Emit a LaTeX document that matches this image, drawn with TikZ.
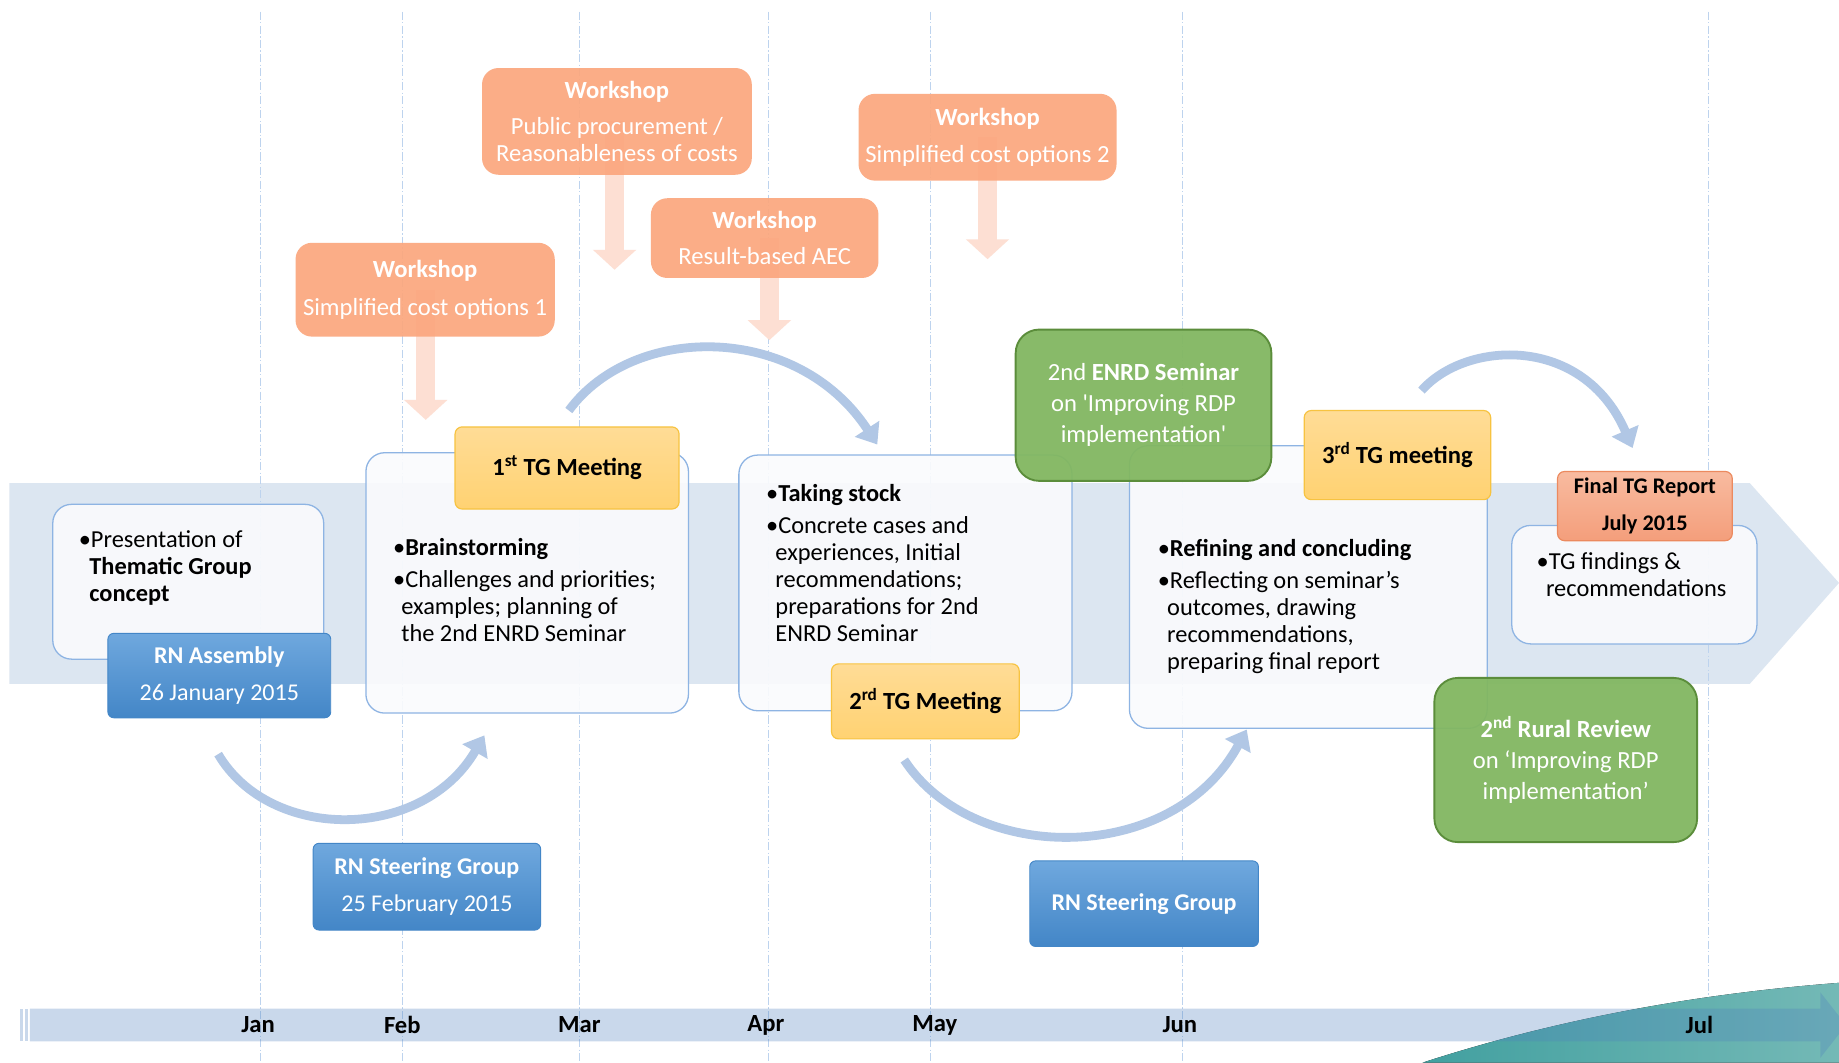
\documentclass[tikz,border=0pt]{standalone}
\usepackage{fontspec}
\newfontfamily\cfont{Carlito}
\usetikzlibrary{arrows.meta}
\definecolor{band}{HTML}{DCE6F1}
\definecolor{boxline}{HTML}{8EB4E3}
\definecolor{boxfill}{HTML}{FAFBFD}
\definecolor{dashcol}{HTML}{BDD3EE}
\definecolor{barcol}{HTML}{4F81BD}
\definecolor{wsfill}{HTML}{FBA77E}
\definecolor{wsarrow}{HTML}{FDDFD3}
\definecolor{ylwtop}{HTML}{FFDC96}
\definecolor{ylwbot}{HTML}{FFD272}
\definecolor{ylwline}{HTML}{F7C341}
\definecolor{grn}{HTML}{82B761}
\definecolor{grnline}{HTML}{5B8D3B}
\definecolor{blutop}{HTML}{6FA8DE}
\definecolor{blubot}{HTML}{4386C7}
\definecolor{fintop}{HTML}{F8BBA0}
\definecolor{finbot}{HTML}{F49E7B}
\definecolor{finline}{HTML}{EC8A5F}
\definecolor{arrowcol}{HTML}{B1C7E5}
\definecolor{tealL}{HTML}{42A0A0}
\definecolor{tealR}{HTML}{74B9B6}
\begin{document}
\begin{tikzpicture}[x=1pt,y=-1pt,
  every node/.style={font=\cfont},
  bigbox/.style={draw=boxline, line width=1.1pt, fill=boxfill, fill opacity=0.9, rounded corners=16pt, inner sep=0pt},
  body/.style={anchor=north west, align=left, inner sep=0pt, text=black, font=\cfont\fontsize{20.8}{23}\selectfont},
  tghead/.style={draw=ylwline, line width=1pt, top color=ylwtop, bottom color=ylwbot, rounded corners=6pt, inner sep=0pt, align=center, text=black, font=\cfont\bfseries\fontsize{21}{25}\selectfont},
  finhead/.style={draw=finline, line width=1pt, top color=fintop, bottom color=finbot, rounded corners=6pt, inner sep=0pt, align=center, text=black, font=\cfont\bfseries\fontsize{19}{32}\selectfont},
  greenbox/.style={draw=grnline, line width=1.6pt, fill=grn, fill opacity=0.95, text opacity=1, rounded corners=20pt, inner sep=0pt, align=center, text=white, font=\cfont\fontsize{21}{26.5}\selectfont},
  bluebox/.style={draw=blubot, line width=0.8pt, top color=blutop, bottom color=blubot, rounded corners=5pt, inner sep=0pt, align=center, text=white, font=\cfont\fontsize{20.5}{31}\selectfont},
  wsbox/.style={fill=wsfill, fill opacity=0.93, text opacity=1, rounded corners=14pt, inner sep=0pt, align=center, text=white, font=\cfont\fontsize{21}{23}\selectfont},
  wsarr/.style={draw=wsarrow, line width=16pt, -{Triangle[width=36pt,length=17pt]}},
  carrow/.style={draw=arrowcol, line width=7.5pt, -{Triangle[width=24pt,length=16pt]}},
  month/.style={inner sep=0pt, text=black, font=\cfont\bfseries\fontsize{21}{24}\selectfont},
  vline/.style={draw=dashcol, line width=0.8pt, dash pattern=on 7pt off 2pt on 1pt off 2pt},
  tbar/.style={fill=barcol, fill opacity=0.3}
]
\useasboundingbox (0,0) rectangle (1568,906);
\fill[white] (0,0) rectangle (1568,906);

% background band arrow
\fill[band] (8,412) -- (1492,412) -- (1568,497) -- (1492,583) -- (8,583) -- cycle;

% month guide lines
\foreach \x in {222,343,494,655,793,1008,1457}
  \draw[vline] (\x,10) -- (\x,906);

% teal decoration
\fill[left color=tealL, right color=tealR] (1213,906) .. controls (1330,868) and (1450,847) .. (1568,838) -- (1568,906) -- cycle;

% bottom timeline bar (semi-transparent arrow)
\fill[tbar] (17,860) rectangle (19.5,888);
\fill[tbar] (21.5,860) rectangle (23.5,888);
\fill[tbar] (25.5,860) -- (1552,860) -- (1552,846) -- (1574,874) -- (1552,902) -- (1552,888) -- (25.5,888) -- cycle;

\node[month] (mjan) at (220,874) {Jan};
\node[month] (mfeb) at (343,874) {Feb};
\node[month] (mmar) at (494,874) {Mar};
\node[month] (mapr) at (653,874) {Apr};
\node[month] (mmay) at (797,874) {May};
\node[month] (mjun) at (1006,874) {Jun};
\node[month] (mjul) at (1449,874) {Jul};

% workshop arrows (under boxes)
\coordinate (w1t) at (363,358);
\coordinate (w2t) at (524,230);
\coordinate (w3t) at (656,290);
\coordinate (w4t) at (842,221);
\node[wsbox, minimum width=221, minimum height=80, fill opacity=0] (w1) at (362.5,247) {};
\node[wsbox, minimum width=230, minimum height=91, fill opacity=0] (w2) at (526,103.5) {};
\node[wsbox, minimum width=194, minimum height=68, fill opacity=0] (w3) at (652,203) {};
\node[wsbox, minimum width=220, minimum height=74, fill opacity=0] (w4) at (842,117) {};
\draw[wsarr] (w1t |- w1.center) -- (w1t);
\draw[wsarr] (w2t |- w2.center) -- (w2t);
\draw[wsarr] (w3t |- w3.center) -- (w3t);
\draw[wsarr] (w4t |- w4.center) -- (w4t);

% workshop boxes
\node[wsbox, minimum width=221, minimum height=80] (w1b) at (w1) {\textbf{Workshop}\\[9pt]Simplified cost options 1};
\node[wsbox, minimum width=230, minimum height=91] (w2b) at (w2) {\textbf{Workshop}\\[8pt]Public procurement /\\Reasonableness of costs};
\node[wsbox, minimum width=194, minimum height=68] (w3b) at (w3) {\textbf{Workshop}\\[8pt]Result-based AEC};
\node[wsbox, minimum width=220, minimum height=74] (w4b) at (w4) {\textbf{Workshop}\\[9pt]Simplified cost options 2};

% content boxes
\node[bigbox, minimum width=231, minimum height=132] (pbox) at (160.5,496) {};
\node[body] (ptext) at (67,452) {•Presentation of\\\hspace*{9pt}\textbf{Thematic Group}\\\hspace*{9pt}\textbf{concept}};

\node[bigbox, minimum width=275, minimum height=222] (m1box) at (449.5,497) {};
\node[body] (m1text) at (335,459) {•\textbf{Brainstorming}\\[4pt]•Challenges and priorities;\\\hspace*{7pt}examples; planning of\\\hspace*{7pt}the 2nd ENRD Seminar};
\node[tghead, minimum width=191, minimum height=70] (m1head) at (483.5,399) {1\textsuperscript{st} TG Meeting};

\node[bigbox, minimum width=284, minimum height=218] (m2box) at (772,497) {};
\node[body] (m2text) at (653,413) {•\textbf{Taking stock}\\[4pt]•Concrete cases and\\\hspace*{8pt}experiences, Initial\\\hspace*{8pt}recommendations;\\\hspace*{8pt}preparations for 2nd\\\hspace*{8pt}ENRD Seminar};
\node[tghead, minimum width=160, minimum height=64] (m2head) at (789,598) {2\textsuperscript{rd} TG Meeting};

\node[bigbox, minimum width=305, minimum height=241] (m3box) at (1115.5,500.5) {};
\node[body] (m3text) at (987,460) {•\textbf{Refining and concluding}\\[4pt]•Reflecting on seminar’s\\\hspace*{8pt}outcomes, drawing\\\hspace*{8pt}recommendations,\\\hspace*{8pt}preparing final report};
\node[tghead, minimum width=159, minimum height=76] (m3head) at (1191.5,388) {3\textsuperscript{rd} TG meeting};

\node[greenbox, minimum width=218, minimum height=129] (sem) at (975,345.5) {2nd \textbf{ENRD Seminar}\\on 'Improving RDP\\implementation'};

\node[bigbox, minimum width=209, minimum height=101] (fbox) at (1393.5,498.5) {};
\node[body] (ftext) at (1310,471) {•TG findings \&\\\hspace*{8pt}recommendations};
\node[finhead, minimum width=149, minimum height=59] (fhead) at (1402.5,431.5) {Final TG Report\\July 2015};

\node[greenbox, minimum width=224, minimum height=140] (rr) at (1335,648) {\textbf{2\textsuperscript{nd} Rural Review}\\on ‘Improving RDP\\implementation’};

% blue meeting boxes
\node[bluebox, minimum width=190, minimum height=72] (asm) at (187,576) {\textbf{RN Assembly}\\26 January 2015};
\node[bluebox, minimum width=194, minimum height=74] (sg1) at (364,756) {\textbf{RN Steering Group}\\25 February 2015};
\node[bluebox, minimum width=195, minimum height=73] (sg2) at (975.5,770.5) {\textbf{RN Steering Group}};

% curved flow arrows
\coordinate (c1s) at (186,643);
\coordinate (c1e) at (413,627);
\coordinate (c2s) at (485,350);
\coordinate (c2e) at (748,379);
\coordinate (c3s) at (771,648);
\coordinate (c3e) at (1063,622);
\coordinate (c4s) at (1212,333);
\coordinate (c4e) at (1392,382);
\draw[carrow] (c1s) .. controls (230,718) and (360,718) .. (c1e);
\draw[carrow] (c2s) .. controls (540,275) and (680,275) .. (c2e);
\draw[carrow] (c3s) .. controls (830,738) and (1000,738) .. (c3e);
\draw[carrow] (c4s) .. controls (1250,290) and (1350,285) .. (c4e);
\end{tikzpicture}
\end{document}
